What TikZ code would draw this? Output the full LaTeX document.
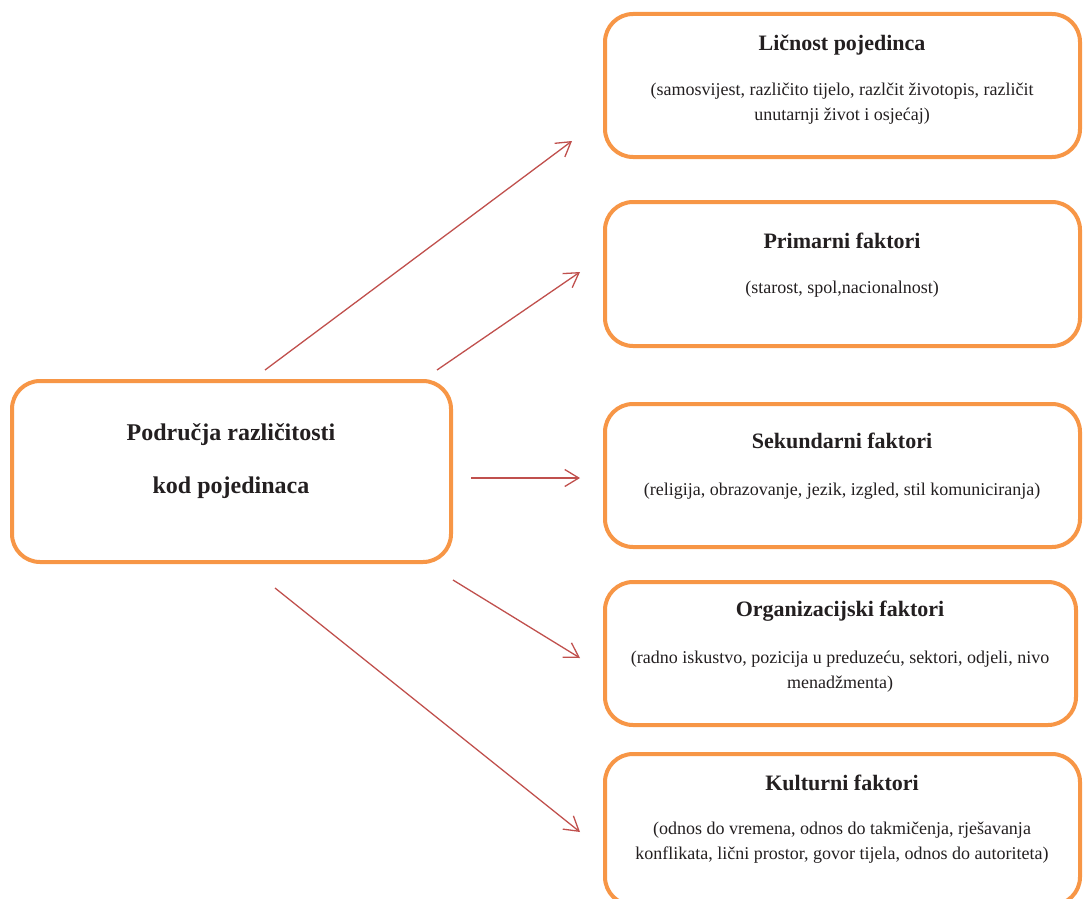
\documentclass[tikz,border=0pt]{standalone}
\usepackage{fontspec}
\setmainfont{Liberation Serif}
\usetikzlibrary{arrows.meta}
\definecolor{boxorange}{HTML}{F79646}
\definecolor{arrowred}{HTML}{C0504D}
\definecolor{txt}{HTML}{231F20}
\begin{document}
\begin{tikzpicture}[x=1pt,y=-1pt,
  box/.style={draw=boxorange,line width=4pt,rounded corners=28pt,fill=white},
  title/.style={font=\fontsize{22}{26}\selectfont\bfseries,text=txt,inner sep=0pt},
  desc/.style={font=\fontsize{18}{25}\selectfont,text=txt,align=center,inner sep=0pt},
  ctitle/.style={font=\fontsize{24}{53}\selectfont\bfseries,text=txt,align=center,inner sep=0pt},
  conn/.style={draw=arrowred,line width=1.3pt,-{Straight Barb[length=14pt,width=17pt,line width=1.3pt]}}]
\useasboundingbox (0,0) rectangle (1084,899);
\clip (0,0) rectangle (1084,899);
% boxes
\draw[box] (605,14) rectangle (1080,157);
\draw[box] (605,202) rectangle (1080,346);
\draw[box] (605,404) rectangle (1080,547);
\draw[box] (605,582) rectangle (1076,725);
\draw[box] (605,754) rectangle (1080,905);
\draw[box] (12,381) rectangle (451,562);
% texts
\node[ctitle] (c) at (231,461) {Područja različitosti\\kod pojedinaca};
\node[title] (t1) at (842,45) {Ličnost pojedinca};
\node[desc] (d1) at (842,104) {(samosvijest, različito tijelo, razlčit životopis, različit\\unutarnji život i osjećaj)};
\node[title] (t2) at (842,241) {Primarni faktori};
\node[desc] (d2) at (842,289) {(starost, spol,nacionalnost)};
\node[title] (t3) at (842,441) {Sekundarni faktori};
\node[desc] (d3) at (842,491) {(religija, obrazovanje, jezik, izgled, stil komuniciranja)};
\node[title] (t4) at (840,611) {Organizacijski faktori};
\node[desc] (d4) at (840,672) {(radno iskustvo, pozicija u preduzeću, sektori, odjeli, nivo\\menadžmenta)};
\node[title] (t5) at (842,783) {Kulturni faktori};
\node[desc] (d5) at (842,843) {(odnos do vremena, odnos do takmičenja, rješavanja\\konflikata, lični prostor, govor tijela, odnos do autoriteta)};
% arrows
\coordinate (a1s) at (265,370); \coordinate (a1e) at (572,141);
\coordinate (a2s) at (437,370); \coordinate (a2e) at (580,272);
\coordinate (a3s) at (471,478); \coordinate (a3e) at (580,478);
\coordinate (a4s) at (453,580); \coordinate (a4e) at (580,658);
\coordinate (a5s) at (275,588); \coordinate (a5e) at (580,832);
\draw[conn] (a1s) -- (a1e);
\draw[conn] (a2s) -- (a2e);
\draw[conn] (a3s) -- (a3e);
\draw[conn] (a4s) -- (a4e);
\draw[conn] (a5s) -- (a5e);
\end{tikzpicture}
\end{document}
